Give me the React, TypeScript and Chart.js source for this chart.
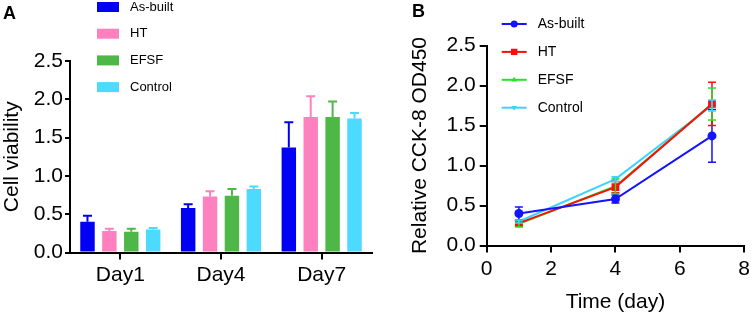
import React, { useEffect, useRef } from 'react';
import { Chart, registerables } from 'chart.js';

Chart.register(...registerables);

// ---- data ----
const days = ['Day1', 'Day4', 'Day7'];
const timeDays = [1, 4, 7];
const groups = ['As-built', 'HT', 'EFSF', 'Control'];
const asBuilt = [0.4, 0.58, 1.37];
const ht = [0.28, 0.73, 1.77];
const efsf = [0.27, 0.74, 1.77];
const control = [0.3, 0.83, 1.75];
const asBuiltSd = [0.08, 0.05, 0.33];
const htSd = [0.03, 0.07, 0.27];
const efsfSd = [0.04, 0.09, 0.2];
const controlSd = [0.02, 0.03, 0.07];
const yTicks = [0, 0.5, 1.0, 1.5, 2.0, 2.5];
const xTicks = [0, 2, 4, 6, 8];

const means = [asBuilt, ht, efsf, control];
const sds = [asBuiltSd, htSd, efsfSd, controlSd];

const barColors = ['#0000F2', '#FF80BF', '#4DB847', '#4DDAFF'];
const lineColors = ['#1414FF', '#FF0D0D', '#22E622', '#40D2FF'];
const pointStyles = ['circle', 'rect', 'triangle', 'triangle'];
const pointRadii = [4.5, 5.5, 4, 4];
const pointRotations = [0, 0, 0, 180];

const FONT = '"Liberation Sans", Arial, Helvetica, sans-serif';

function drawMarker(ctx: CanvasRenderingContext2D, style: string, rot: number, x: number, y: number, r: number, color: string) {
  ctx.save();
  ctx.fillStyle = color;
  ctx.translate(x, y);
  ctx.rotate((rot * Math.PI) / 180);
  ctx.beginPath();
  if (style === 'circle') {
    ctx.arc(0, 0, r, 0, Math.PI * 2);
  } else if (style === 'rect') {
    const s = r * Math.SQRT1_2;
    ctx.rect(-s, -s, 2 * s, 2 * s);
  } else {
    ctx.moveTo(0, -r);
    ctx.lineTo(r * 0.95, r * 0.6);
    ctx.lineTo(-r * 0.95, r * 0.6);
    ctx.closePath();
  }
  ctx.fill();
  ctx.restore();
}

function errorBarPlugin(colors: string[], twoSided: boolean, lw: number, cap: number) {
  return {
    id: 'errorBars',
    afterDatasetsDraw(chart: any) {
      const ctx = chart.ctx as CanvasRenderingContext2D;
      const ys = chart.scales.y;
      chart.data.datasets.forEach((_ds: any, i: number) => {
        const meta = chart.getDatasetMeta(i);
        meta.data.forEach((el: any, j: number) => {
          const m = means[i][j];
          const s = sds[i][j];
          const x = el.x;
          const top = ys.getPixelForValue(m + s);
          const bot = twoSided ? ys.getPixelForValue(m - s) : ys.getPixelForValue(m);
          ctx.save();
          ctx.strokeStyle = colors[i];
          ctx.lineWidth = lw;
          ctx.beginPath();
          ctx.moveTo(x, bot);
          ctx.lineTo(x, top);
          ctx.moveTo(x - cap, top);
          ctx.lineTo(x + cap, top);
          if (twoSided) {
            ctx.moveTo(x - cap, bot);
            ctx.lineTo(x + cap, bot);
          }
          ctx.stroke();
          ctx.restore();
        });
      });
    },
  };
}

function legendPlugin(kind: 'box' | 'line', x0: number, y0: number, dy: number, textX: number, fontSize: number) {
  return {
    id: 'customLegend',
    afterDraw(chart: any) {
      const ctx = chart.ctx as CanvasRenderingContext2D;
      ctx.save();
      ctx.font = `${fontSize}px ${FONT}`;
      ctx.textBaseline = 'middle';
      ctx.textAlign = 'left';
      groups.forEach((g, i) => {
        const y = y0 + i * dy;
        if (kind === 'box') {
          ctx.fillStyle = barColors[i];
          ctx.fillRect(x0, y - 5, 22, 10);
        } else {
          ctx.strokeStyle = lineColors[i];
          ctx.lineWidth = 2;
          ctx.beginPath();
          ctx.moveTo(x0, y);
          ctx.lineTo(x0 + 25, y);
          ctx.stroke();
          drawMarker(ctx, pointStyles[i], pointRotations[i], x0 + 12.5, y, pointRadii[i] - 1, lineColors[i]);
        }
        ctx.fillStyle = '#000';
        ctx.fillText(g, textX, y);
      });
      ctx.restore();
    },
  };
}

function panelLabelPlugin(text: string, x: number, y: number) {
  return {
    id: 'panelLabel',
    afterDraw(chart: any) {
      const ctx = chart.ctx as CanvasRenderingContext2D;
      ctx.save();
      ctx.font = `bold 18px ${FONT}`;
      ctx.fillStyle = '#000';
      ctx.textBaseline = 'top';
      ctx.textAlign = 'left';
      ctx.fillText(text, x, y);
      ctx.restore();
    },
  };
}

const axisGrid = (len: number) => ({
  display: true,
  drawOnChartArea: false,
  drawTicks: true,
  tickLength: len,
  tickWidth: 2,
  color: '#000',
  lineWidth: 2,
  offset: false,
});
const axisBorder = { display: true, color: '#000', width: 2 };

export default function App() {
  const leftRef = useRef<HTMLCanvasElement>(null);
  const rightRef = useRef<HTMLCanvasElement>(null);

  useEffect(() => {
    Chart.defaults.font.family = FONT;
    Chart.defaults.color = '#000';

    const left = new Chart(leftRef.current as HTMLCanvasElement, {
      type: 'bar',
      data: {
        labels: days,
        datasets: groups.map((g, i) => ({
          label: g,
          data: means[i],
          backgroundColor: barColors[i],
          borderWidth: 0,
          categoryPercentage: 0.87,
          barPercentage: 0.66,
        })),
      },
      options: {
        responsive: false,
        animation: false,
        layout: { padding: { top: 61, right: 8, left: 0, bottom: 0 } },
        plugins: { legend: { display: false }, tooltip: { enabled: false } },
        scales: {
          x: {
            grid: axisGrid(7),
            border: axisBorder,
            ticks: { color: '#000', font: { size: 21 }, padding: 3 },
            afterFit(s: any) {
              s.height = 64.5;
            },
          },
          y: {
            min: 0,
            max: 2.5,
            afterBuildTicks(s: any) {
              s.ticks = yTicks.map((v) => ({ value: v }));
            },
            ticks: { color: '#000', font: { size: 21 }, padding: 2, callback: (v: any) => Number(v).toFixed(1) },
            grid: axisGrid(5),
            border: axisBorder,
            title: { display: true, text: 'Cell viability', color: '#000', font: { size: 21 }, padding: 0 },
            afterFit(s: any) {
              s.width = 70;
            },
          },
        },
      } as any,
      plugins: [
        errorBarPlugin(barColors, false, 2, 4.5),
        legendPlugin('box', 97, 7, 26.7, 130, 13),
        panelLabelPlugin('A', 3, 5),
      ],
    });

    const right = new Chart(rightRef.current as HTMLCanvasElement, {
      type: 'line',
      data: {
        datasets: groups.map((g, i) => ({
          label: g,
          data: timeDays.map((d, j) => ({ x: d, y: means[i][j] })),
          borderColor: lineColors[i],
          backgroundColor: lineColors[i],
          borderWidth: 2,
          pointStyle: pointStyles[i],
          pointRadius: pointRadii[i],
          pointRotation: pointRotations[i],
          pointBorderWidth: 0,
          tension: 0,
        })),
      },
      options: {
        responsive: false,
        animation: false,
        layout: { padding: { top: 45.5, right: 7.3, left: 0, bottom: 0 } },
        plugins: { legend: { display: false }, tooltip: { enabled: false } },
        scales: {
          x: {
            type: 'linear',
            min: 0,
            max: 8,
            afterBuildTicks(s: any) {
              s.ticks = xTicks.map((v) => ({ value: v }));
            },
            grid: axisGrid(7),
            border: axisBorder,
            ticks: { color: '#000', font: { size: 21 }, padding: 4 },
            title: { display: true, text: 'Time (day)', color: '#000', font: { size: 21 }, padding: { top: 0, bottom: 2 } },
            afterFit(s: any) {
              s.height = 71.5;
            },
          },
          y: {
            min: 0,
            max: 2.5,
            afterBuildTicks(s: any) {
              s.ticks = yTicks.map((v) => ({ value: v }));
            },
            ticks: { color: '#000', font: { size: 21 }, padding: 4, callback: (v: any) => Number(v).toFixed(1) },
            grid: axisGrid(7),
            border: axisBorder,
            title: { display: true, text: 'Relative CCK-8 OD450', color: '#000', font: { size: 21 }, padding: { top: 28, bottom: 0 } },
            afterFit(s: any) {
              s.width = 106.7;
            },
          },
        },
      } as any,
      plugins: [
        errorBarPlugin(lineColors, true, 1.5, 4),
        legendPlugin('line', 121.7, 24, 27.9, 157.7, 14),
        panelLabelPlugin('B', 32, 3),
      ],
    });

    return () => {
      left.destroy();
      right.destroy();
    };
  }, []);

  return (
    <div style={{ position: 'absolute', left: 0, top: 0, width: 754, height: 317, background: '#fff' }}>
      <canvas ref={leftRef} width={380} height={317} style={{ position: 'absolute', left: 0, top: 0, display: 'block' }} />
      <canvas ref={rightRef} width={374} height={317} style={{ position: 'absolute', left: 380, top: 0, display: 'block' }} />
    </div>
  );
}
